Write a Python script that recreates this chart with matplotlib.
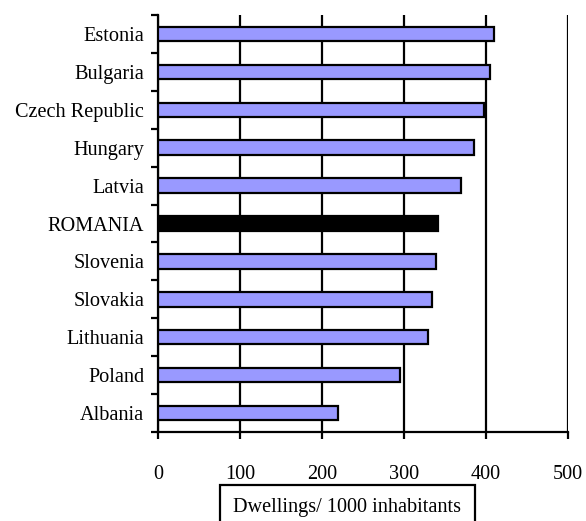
import numpy as np
import matplotlib
matplotlib.use('Agg')
import matplotlib.pyplot as plt

##################### data

countries = ['Estonia', 'Bulgaria', 'Czech Republic', 'Hungary', 'Latvia', 'ROMANIA',
             'Slovenia', 'Slovakia', 'Lithuania', 'Poland', 'Albania']
dwellings = [410, 405, 398, 385, 370, 342, 339, 334, 329, 295, 219]
highlight = 'ROMANIA'

x_ticks = [0, 100, 200, 300, 400, 500]
x_label = 'Dwellings/ 1000 inhabitants'

##################### style

plt.rcParams['font.family'] = ['Liberation Serif', 'DejaVu Serif']
plt.rcParams['font.size'] = 14.6
lw = 1.6

fig = plt.figure(figsize=(5.86, 5.21), dpi=100)
ax = fig.add_axes([0.2696, 0.1708, 0.6997, 0.8004])

colors = ['black' if c == highlight else '#9999FF' for c in countries]
y = np.arange(len(countries))
ax.barh(y, dwellings, height=0.38, color=colors, edgecolor='black', linewidth=lw, zorder=3)

ax.set_xlim(0, 500)
ax.set_ylim(len(countries) - 0.5, -0.5)

ax.set_xticks(x_ticks)
ax.set_xticklabels([str(t) for t in x_ticks])
ax.xaxis.grid(True, color='black', linewidth=lw, zorder=0)
ax.tick_params(axis='x', direction='out', length=5, width=lw, pad=19)

ax.set_yticks(y)
ax.set_yticklabels(countries)
ax.set_yticks(np.arange(len(countries) + 1) - 0.5, minor=True)
ax.tick_params(axis='y', which='major', length=0, pad=10)
ax.tick_params(axis='y', which='minor', direction='out', length=5, width=lw)

for s in ['top', 'right']:
    ax.spines[s].set_visible(False)
for s in ['left', 'bottom']:
    ax.spines[s].set_linewidth(lw)

fig.text(0.593, 0.025, x_label, ha='center', va='center',
         bbox=dict(boxstyle='square,pad=0.65', facecolor='white', edgecolor='black', linewidth=lw))

fig.savefig('out.png', dpi=100)
